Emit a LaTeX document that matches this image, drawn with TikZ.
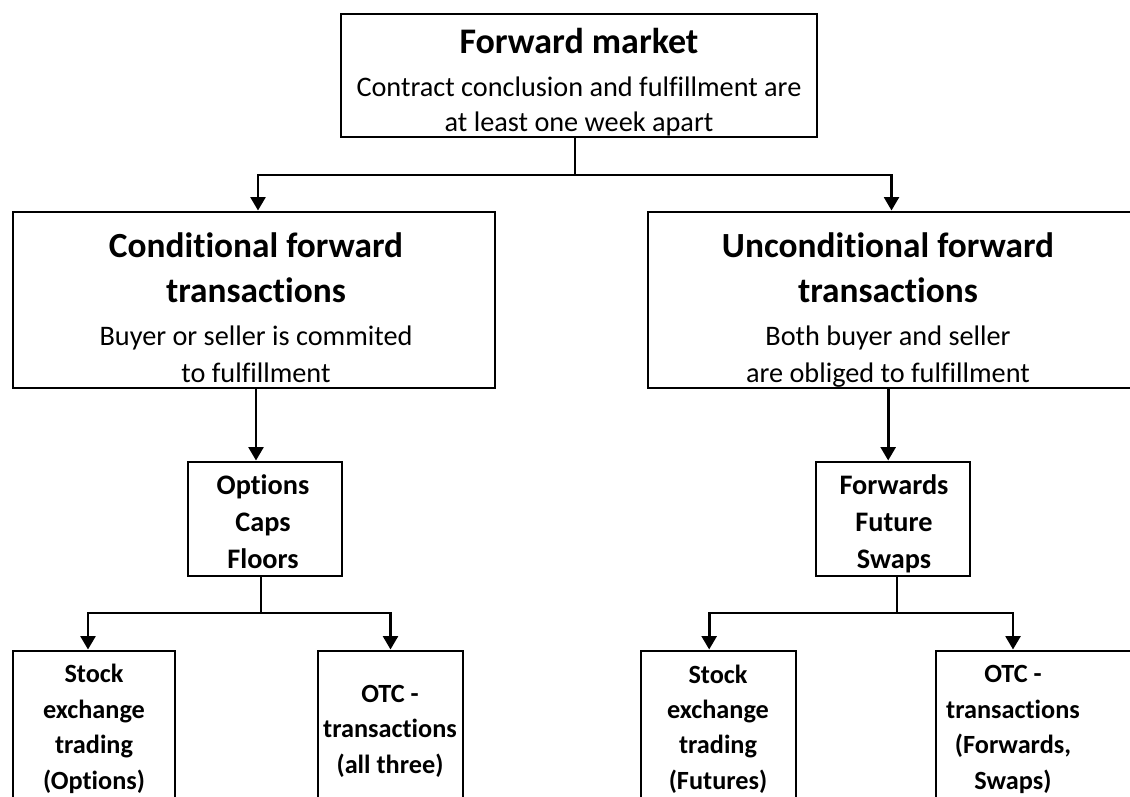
\documentclass[tikz,border=0pt]{standalone}
\usepackage{fontspec}
\setmainfont{Carlito}[Ligatures=NoCommon]
\usetikzlibrary{arrows.meta}
\newcommand{\TopTitleFont}{\bfseries\fontsize{27}{30}\selectfont}
\newcommand{\MidTitleFont}{\bfseries\fontsize{26.5}{33.75}\selectfont}
\begin{document}
\begin{tikzpicture}[x=0.75pt,y=-0.75pt,
  box/.style={draw, line width=2.2pt, inner sep=0pt},
  txt/.style={align=center, inner sep=0pt},
  bodytxt/.style={txt, font=\fontsize{21.2}{26.25}\selectfont},
  condtxt/.style={txt, font=\fontsize{21.2}{27.75}\selectfont},
  smalltxt/.style={txt, font=\bfseries\fontsize{21.2}{27.75}\selectfont},
  leaftxt/.style={txt, font=\bfseries\fontsize{19.7}{26.6}\selectfont},
  conn/.style={line width=2.2pt},
  arr/.style={conn, -{Triangle[width=11pt,length=10pt]}}]
\useasboundingbox (0,0) rectangle (1130,796);
\clip (0,0) rectangle (1130,796);
\fill[white] (0,0) rectangle (1130,796);

% boxes
\node[box, minimum width=357pt, minimum height=92.25pt] (top) at (579,75.5) {};
\node[box, minimum width=361.5pt, minimum height=132pt] (cond) at (254,300) {};
\node[box, minimum width=362.25pt, minimum height=132pt] (uncond) at (889.5,300) {};
\node[box, minimum width=115.5pt, minimum height=85.5pt] (opt) at (265,519) {};
\node[box, minimum width=115.5pt, minimum height=85.5pt] (fwd) at (893,519) {};
\node[box, minimum width=121.5pt, minimum height=120pt] (sl) at (94,731) {};
\node[box, minimum width=108.75pt, minimum height=120pt] (ol) at (390.5,731) {};
\node[box, minimum width=116.25pt, minimum height=120pt] (sr) at (718.5,731) {};
\node[box, minimum width=153pt, minimum height=120pt] (or) at (1038,731) {};

% texts
\node[bodytxt] (toptx) at (579,82) {{\TopTitleFont Forward market}\\[6pt]Contract conclusion and fulfillment are\\at least one week apart};
\node[condtxt] (condtx) at (256,308) {{\MidTitleFont Conditional forward}\\[6pt]{\MidTitleFont transactions}\\[4.5pt]Buyer or seller is commited\\to fulfillment};
\node[condtxt] (uncondtx) at (888,310.5) {{\MidTitleFont Unconditional forward}\\[6pt]{\MidTitleFont transactions}\\[4.5pt]Both buyer and seller\\are obliged to fulfillment};
\node[smalltxt] (opttx) at (263,522) {Options\\Caps\\Floors};
\node[smalltxt] (fwdtx) at (894,523.5) {Forwards\\Future\\Swaps};
\node[leaftxt] (sltx) at (94,729) {Stock\\exchange\\trading\\(Options)};
\node[leaftxt] (oltx) at (390,731) {OTC -\\transactions\\(all three)};
\node[leaftxt] (srtx) at (718,729) {Stock\\exchange\\trading\\(Futures)};
\node[leaftxt] (ortx) at (1013,729.5) {OTC -\\transactions\\(Forwards,\\Swaps)};

% connectors
\coordinate (j0) at (575,175);
\draw[conn] (j0 |- top.south) -- (j0);
\draw[arr] (j0) -| ([xshift=3pt]cond.north);
\draw[arr] (j0) -| ([xshift=1.5pt]uncond.north);
\draw[arr] ([xshift=1.5pt]cond.south) -- ([xshift=1.5pt]cond.south |- opt.north);
\draw[arr] ([xshift=-1pt]uncond.south) -- ([xshift=-1pt]uncond.south |- fwd.north);
\coordinate (j1) at (261,613);
\draw[conn] (j1 |- opt.south) -- (j1);
\draw[arr] (j1) -| ([xshift=-4.5pt]sl.north);
\draw[arr] (j1) -| (ol.north);
\coordinate (j2) at (897,613);
\draw[conn] (j2 |- fwd.south) -- (j2);
\draw[arr] (j2) -| ([xshift=-7pt]sr.north);
\draw[arr] (j2) -| (ortx.north |- or.north);
\end{tikzpicture}
\end{document}
